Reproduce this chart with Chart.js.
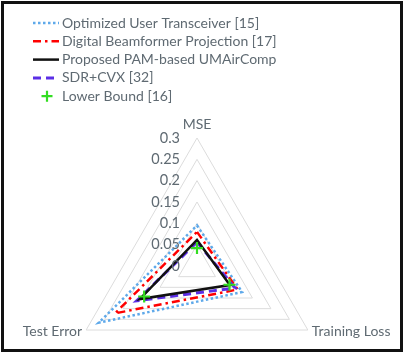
<!DOCTYPE html>
<html>
<head>
<meta charset="utf-8">
<script src="https://cdn.jsdelivr.net/npm/chart.js@4"></script>
<style>
  html, body { margin: 0; padding: 0; background: #fff; }
  #wrap { position: relative; width: 404px; height: 354px; }
</style>
</head>
<body>
<div id="wrap"><canvas id="radarChart" width="404" height="354"></canvas></div>
<script>
// axes and series
const axisLabels = ['MSE', 'Training Loss', 'Test Error'];
const tickValues = [0, 0.05, 0.1, 0.15, 0.2, 0.25, 0.3];

const seriesNames = [
  'Optimized User Transceiver [15]',
  'Digital Beamformer Projection [17]',
  'Proposed PAM-based UMAirComp',
  'SDR+CVX [32]',
  'Lower Bound [16]'
];
const optimizedVals = [0.095, 0.122, 0.266];
const digitalVals   = [0.080, 0.110, 0.222];
const proposedVals  = [0.061, 0.089, 0.155];
const sdrVals       = [0.056, 0.103, 0.163];
const lowerVals     = [0.042, 0.088, 0.143];

const textColor = '#5f6a72';
const fontFamily = 'Lato, "Open Sans", sans-serif';

// legend + frame + labels drawn by hand, Excel style
const excelDecor = {
  id: 'excelDecor',
  afterDraw(chart) {
    const ctx = chart.ctx;
    const r = chart.scales.r;
    ctx.save();

    // tick labels, left of the vertical axis
    ctx.fillStyle = textColor;
    ctx.font = '14.5px ' + fontFamily;
    ctx.textAlign = 'right';
    ctx.textBaseline = 'middle';
    tickValues.forEach(v => {
      const d = r.getDistanceFromCenterForValue(v);
      ctx.fillText(String(v), r.xCenter - 17, r.yCenter - d);
    });

    // axis names
    ctx.font = '14px ' + fontFamily;
    const top = r.getPointPosition(0, r.drawingArea + 14);
    ctx.textAlign = 'center';
    ctx.fillText(axisLabels[0], top.x, top.y);
    const right = r.getPointPosition(1, r.drawingArea);
    ctx.textAlign = 'left';
    ctx.fillText(axisLabels[1], right.x + 4, right.y + 1);
    const left = r.getPointPosition(2, r.drawingArea);
    ctx.textAlign = 'right';
    ctx.fillText(axisLabels[2], left.x - 4, left.y + 1);

    // legend
    ctx.font = '14px ' + fontFamily;
    ctx.textAlign = 'left';
    chart.data.datasets.forEach((ds, i) => {
      const y = 23 + i * 18.3;
      if (ds.showLine === false) {
        ctx.strokeStyle = ds.pointBorderColor;
        ctx.lineWidth = 2.2;
        ctx.setLineDash([]);
        ctx.beginPath();
        ctx.moveTo(41.5, y); ctx.lineTo(52.5, y);
        ctx.moveTo(47, y - 5.5); ctx.lineTo(47, y + 5.5);
        ctx.stroke();
      } else {
        ctx.strokeStyle = ds.borderColor;
        ctx.lineWidth = ds.borderWidth;
        ctx.setLineDash(ds.borderDash || []);
        ctx.beginPath();
        ctx.moveTo(33, y); ctx.lineTo(59, y);
        ctx.stroke();
      }
      ctx.fillStyle = textColor;
      ctx.fillText(ds.label, 62, y);
    });

    // outer frame
    ctx.setLineDash([]);
    ctx.strokeStyle = '#111';
    ctx.lineWidth = 3;
    ctx.strokeRect(2.5, 2.5, 399, 348);
    ctx.restore();
  }
};

function lineSet(label, data, color, dash, width, order) {
  return {
    label: label,
    data: data,
    borderColor: color,
    backgroundColor: 'transparent',
    borderWidth: width,
    borderDash: dash,
    fill: false,
    pointRadius: 0,
    order: order
  };
}

new Chart(document.getElementById('radarChart').getContext('2d'), {
  type: 'radar',
  data: {
    labels: axisLabels,
    datasets: [
      lineSet(seriesNames[0], optimizedVals, '#5ea9ea', [2.5, 2.5], 2.5, 4),
      lineSet(seriesNames[1], digitalVals, '#ff0000', [8, 4, 2.5, 4], 2.5, 3),
      lineSet(seriesNames[2], proposedVals, '#111111', [], 2.5, 1),
      lineSet(seriesNames[3], sdrVals, '#5b2ee6', [8, 5], 3, 2),
      {
        label: seriesNames[4],
        data: lowerVals,
        showLine: false,
        fill: false,
        pointStyle: 'cross',
        pointRadius: 6,
        pointBorderWidth: 2.2,
        pointBorderColor: '#33dd22',
        pointBackgroundColor: '#33dd22',
        borderColor: '#33dd22',
        order: 0
      }
    ]
  },
  options: {
    responsive: false,
    animation: false,
    events: [],
    plugins: {
      legend: { display: false },
      tooltip: { enabled: false }
    },
    scales: {
      r: {
        min: 0,
        max: 0.3,
        ticks: { display: false, stepSize: 0.05 },
        pointLabels: { display: false },
        angleLines: { display: false },
        grid: { circular: false, color: '#dcdcdc', lineWidth: 1 },
        afterFit(scale) {
          // place the triangle where Excel put it
          scale.xCenter = 197;
          scale.yCenter = 266;
          scale.drawingArea = 128;
        }
      }
    }
  },
  plugins: [excelDecor]
});
</script>
</body>
</html>
